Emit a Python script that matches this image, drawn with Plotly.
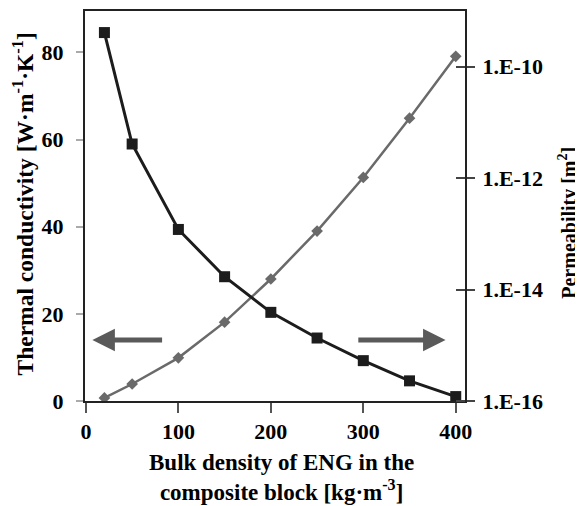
import plotly.graph_objects as go

density = [20, 50, 100, 150, 200, 250, 300, 350, 400]
conductivity = [0.7, 3.9, 9.9, 18.1, 28.0, 39.0, 51.3, 64.9, 79.1]
permeability = [4.1e-10, 4.1e-12, 1.2e-13, 1.7e-14, 3.9e-15, 1.35e-15, 5.3e-16, 2.3e-16, 1.2e-16]

x_ticks = [0, 100, 200, 300, 400]
y_ticks = [0, 20, 40, 60, 80]
perm_tickvals = [1e-16, 1e-14, 1e-12, 1e-10]
perm_ticktext = ["1.E-16", "1.E-14", "1.E-12", "1.E-10"]

x_title = "Bulk density of ENG in the<br>composite block [kg·m<sup>-3</sup>]"
y_title = "Thermal conductivity [W·m<sup>-1</sup>·K<sup>-1</sup>]"
y2_title = "Permeability [m<sup>2</sup>]"

FONT = "Liberation Serif"
TICKFONT = dict(family=FONT, size=22, color="black")

fig = go.Figure()
fig.add_trace(go.Scatter(
    x=density, y=conductivity, mode="lines+markers",
    line=dict(color="#6a6a6a", width=2.5),
    marker=dict(symbol="diamond", size=9, color="#6a6a6a"),
    yaxis="y", showlegend=False))
fig.add_trace(go.Scatter(
    x=density, y=permeability, mode="lines+markers",
    line=dict(color="#1c1c1c", width=3),
    marker=dict(symbol="square", size=11, color="#1c1c1c"),
    yaxis="y2", showlegend=False))

# page body has an 8px default margin, so the figure is sized to fit the window
fig.update_layout(
    width=575, height=498,
    margin=dict(l=77, r=118, t=1, b=105),
    plot_bgcolor="white", paper_bgcolor="white",
    font=dict(family=FONT, size=19, color="black"),
    xaxis=dict(
        range=[-1, 410], tickvals=x_ticks, ticktext=[f"<b>{v}</b>" for v in x_ticks],
        showgrid=False, zeroline=False,
        showline=True, linecolor="#222", linewidth=2, mirror=True,
        ticks="outside", ticklen=10, tickcolor="#555", tickwidth=1.5,
        tickfont=TICKFONT,
    ),
    yaxis=dict(
        range=[0, 89.5], tickvals=y_ticks, ticktext=[f"<b>{v}</b>" for v in y_ticks],
        showgrid=False, zeroline=False,
        showline=True, linecolor="#222", linewidth=2,
        ticks="outside", ticklen=7, tickcolor="#aaa", tickwidth=1.5,
        tickfont=TICKFONT, ticklabelstandoff=8,
    ),
    yaxis2=dict(
        type="log", range=[-16, -9], overlaying="y", side="right",
        tickvals=perm_tickvals, ticktext=[f"<b>{t}</b>" for t in perm_ticktext],
        showgrid=False, zeroline=False,
        showline=True, linecolor="#222", linewidth=2,
        ticks="outside", ticklen=8, tickcolor="#444", tickwidth=1.5,
        minor=dict(tickvals=perm_tickvals, ticks="inside", ticklen=9,
                   tickcolor="#444", tickwidth=1.5, showgrid=False),
        tickfont=TICKFONT, ticklabelstandoff=3,
    ),
)

# axis titles
fig.add_annotation(text=f"<b>{y_title}</b>", xref="paper", yref="paper",
                   x=-0.162, y=0.505, xanchor="center", yanchor="middle",
                   textangle=-90, showarrow=False, font=dict(family=FONT, size=23.5))
fig.add_annotation(text=f"<b>{y2_title}</b>", xref="paper", yref="paper",
                   x=1.271, y=0.457, xanchor="center", yanchor="middle",
                   textangle=-90, showarrow=False, font=dict(family=FONT, size=20))
fig.add_annotation(text=f"<b>{x_title}</b>", xref="paper", yref="paper",
                   x=0.516, y=-0.197, xanchor="center", yanchor="middle",
                   showarrow=False, font=dict(family=FONT, size=23))

# direction arrows
fig.add_annotation(x=7, y=14, ax=84, ay=14, xref="x", yref="y", axref="x", ayref="y",
                   text="", showarrow=True, arrowhead=2, arrowsize=0.9, arrowwidth=5,
                   arrowcolor="#5a5a5a")
fig.add_annotation(x=389, y=14, ax=293, ay=14, xref="x", yref="y", axref="x", ayref="y",
                   text="", showarrow=True, arrowhead=2, arrowsize=0.9, arrowwidth=5,
                   arrowcolor="#5a5a5a")

fig.write_html("out.html")
